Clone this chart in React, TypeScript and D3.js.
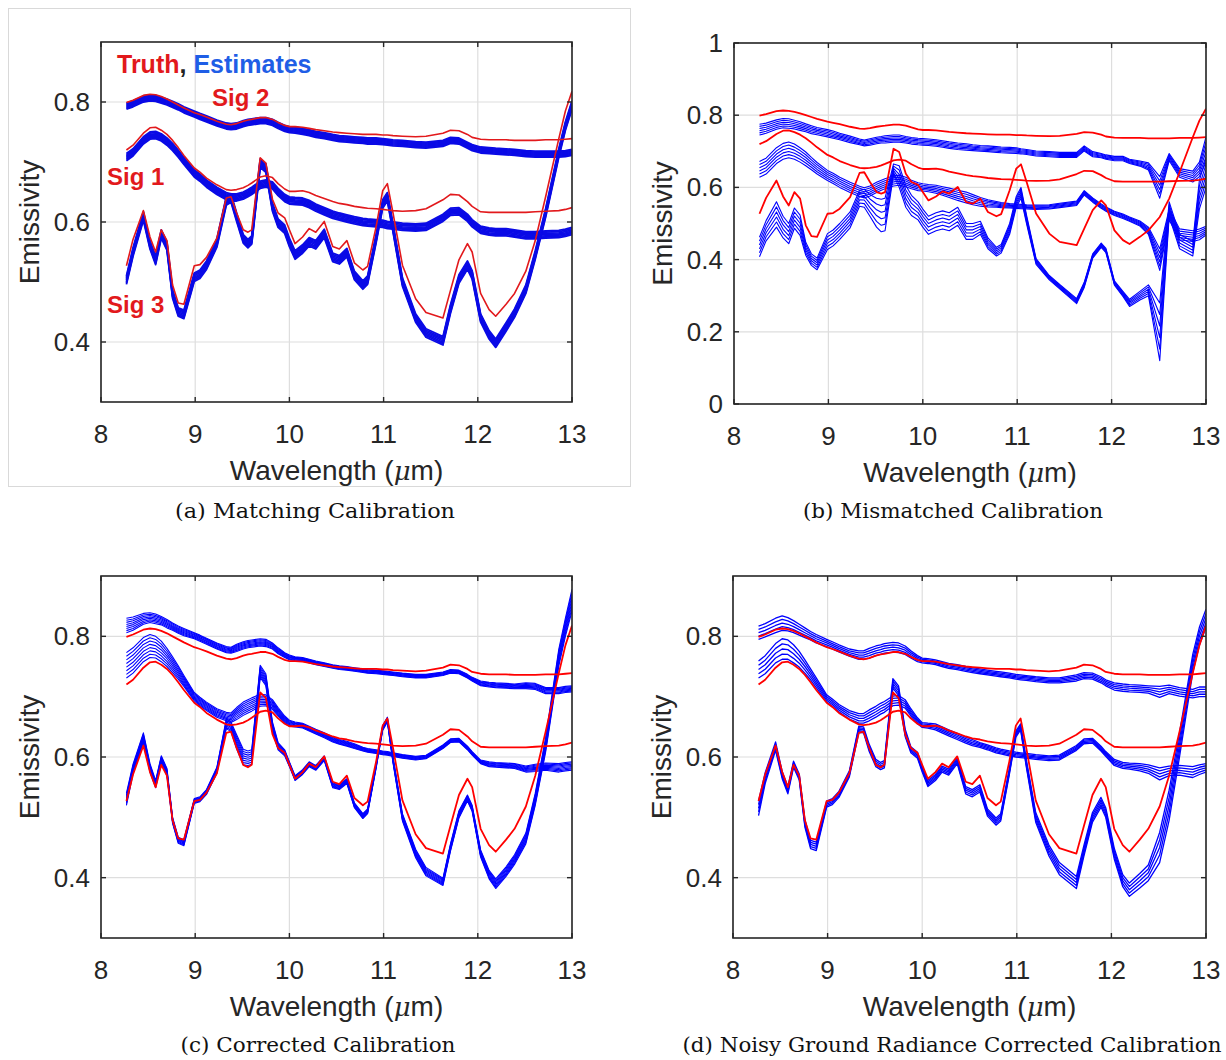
import React, { useEffect, useRef } from "react";
import * as d3 from "d3";

// wavelength grid (um) shared by every curve
const wavelength = [
  8.27, 8.34, 8.45, 8.52, 8.58, 8.64, 8.7, 8.76, 8.82, 8.88,
  8.99, 9.05, 9.12, 9.23, 9.33, 9.38, 9.44, 9.51, 9.56, 9.6,
  9.69, 9.75, 9.82, 9.88, 9.95, 10.0, 10.06, 10.14, 10.21, 10.28,
  10.37, 10.46, 10.53, 10.61, 10.69, 10.78, 10.83, 10.92, 10.99, 11.04,
  11.1, 11.2, 11.34, 11.45, 11.63, 11.71, 11.8, 11.89, 11.94, 12.03,
  12.12, 12.19, 12.3, 12.39, 12.51, 12.61, 12.72, 12.86, 12.93, 13.0,
];

// truth signatures (red)
const truthSig1 = [
  0.72, 0.728, 0.748, 0.757, 0.758, 0.753, 0.746, 0.736, 0.724, 0.711,
  0.69, 0.683, 0.673, 0.662, 0.654, 0.653, 0.654, 0.657, 0.661, 0.665,
  0.675, 0.677, 0.674, 0.664, 0.655, 0.651, 0.651, 0.652, 0.649, 0.644,
  0.639, 0.634, 0.631, 0.629, 0.626, 0.624, 0.623, 0.622, 0.621, 0.62,
  0.619, 0.618, 0.619, 0.622, 0.637, 0.646, 0.645, 0.634, 0.626, 0.617,
  0.616, 0.616, 0.616, 0.616, 0.616, 0.617, 0.618, 0.619, 0.621, 0.624,
];
const truthSig2 = [
  0.799, 0.803, 0.811, 0.813, 0.812, 0.809, 0.805, 0.8, 0.795, 0.79,
  0.782, 0.779, 0.775, 0.768, 0.763, 0.762, 0.764, 0.768, 0.77, 0.771,
  0.774, 0.774, 0.771, 0.766, 0.761, 0.759, 0.759, 0.758, 0.756, 0.754,
  0.752, 0.75, 0.749, 0.748, 0.747, 0.746, 0.746, 0.746, 0.745, 0.745,
  0.744, 0.743, 0.742, 0.743, 0.748, 0.753, 0.752, 0.746, 0.741, 0.738,
  0.737, 0.737, 0.737, 0.736, 0.736, 0.736, 0.737, 0.737, 0.738, 0.739,
];
const truthSig3 = [
  0.527, 0.571, 0.619, 0.575, 0.55, 0.587, 0.569, 0.495, 0.465, 0.463,
  0.527, 0.529, 0.541, 0.573, 0.64, 0.642, 0.615, 0.587, 0.583, 0.587,
  0.707, 0.698, 0.638, 0.615, 0.607, 0.587, 0.564, 0.575, 0.589, 0.583,
  0.601, 0.559, 0.555, 0.569, 0.532, 0.52, 0.526, 0.592, 0.652, 0.664,
  0.615, 0.528, 0.472, 0.449, 0.44, 0.486, 0.537, 0.564, 0.55, 0.481,
  0.454, 0.443, 0.463, 0.481, 0.518, 0.569, 0.642, 0.739, 0.785, 0.818,
];

// (a) matching calibration: estimate centres and band half-widths
const estA1 = [
  0.708, 0.716, 0.736, 0.744, 0.745, 0.741, 0.734, 0.725, 0.714, 0.702,
  0.681, 0.674, 0.664, 0.652, 0.643, 0.641, 0.641, 0.644, 0.648, 0.652,
  0.662, 0.664, 0.661, 0.65, 0.64, 0.636, 0.635, 0.634, 0.63, 0.624,
  0.618, 0.612, 0.609, 0.606, 0.603, 0.6, 0.599, 0.598, 0.597, 0.595,
  0.594, 0.592, 0.591, 0.592, 0.607, 0.617, 0.618, 0.607, 0.598, 0.587,
  0.584, 0.583, 0.583, 0.581, 0.578, 0.578, 0.579, 0.58, 0.582, 0.585,
];
const estA2 = [
  0.793, 0.797, 0.805, 0.807, 0.806, 0.803, 0.8, 0.796, 0.792, 0.787,
  0.78, 0.776, 0.772, 0.765, 0.76, 0.759, 0.76, 0.764, 0.766, 0.767,
  0.769, 0.769, 0.766, 0.761, 0.756, 0.754, 0.753, 0.751, 0.749, 0.746,
  0.744, 0.741, 0.739, 0.738, 0.737, 0.736, 0.735, 0.735, 0.734, 0.733,
  0.732, 0.731, 0.729, 0.728, 0.731, 0.736, 0.735, 0.728, 0.724, 0.72,
  0.719, 0.718, 0.717, 0.716, 0.714, 0.713, 0.713, 0.713, 0.714, 0.716,
];
const estA3 = [
  0.503, 0.55, 0.61, 0.562, 0.536, 0.58, 0.56, 0.48, 0.45, 0.446,
  0.508, 0.513, 0.528, 0.565, 0.635, 0.64, 0.608, 0.572, 0.564, 0.57,
  0.698, 0.69, 0.625, 0.598, 0.588, 0.566, 0.545, 0.555, 0.567, 0.562,
  0.581, 0.541, 0.537, 0.549, 0.511, 0.495, 0.503, 0.572, 0.63, 0.642,
  0.59, 0.5, 0.44, 0.415, 0.402, 0.455, 0.505, 0.528, 0.512, 0.44,
  0.412, 0.398, 0.425, 0.448, 0.488, 0.545, 0.615, 0.715, 0.76, 0.795,
];
const bandA = [0.006, 0.005, 0.007];

// (b) mismatched calibration
const estB1 = [
  0.65, 0.659, 0.688, 0.7, 0.704, 0.699, 0.69, 0.679, 0.666, 0.653,
  0.633, 0.625, 0.614, 0.6, 0.589, 0.585, 0.59, 0.6, 0.606, 0.61,
  0.618, 0.62, 0.615, 0.608, 0.602, 0.6, 0.598, 0.595, 0.59, 0.585,
  0.578, 0.572, 0.566, 0.56, 0.556, 0.553, 0.551, 0.549, 0.548, 0.547,
  0.546, 0.545, 0.546, 0.55, 0.556, 0.585, 0.565, 0.548, 0.54, 0.528,
  0.52, 0.512, 0.5, 0.48, 0.4, 0.525, 0.47, 0.465, 0.47, 0.48,
];
const spreadB1 = [
  0.022, 0.022, 0.022, 0.022, 0.022, 0.021, 0.02, 0.019, 0.017, 0.016,
  0.014, 0.014, 0.014, 0.014, 0.014, 0.014, 0.014, 0.014, 0.014, 0.014,
  0.014, 0.014, 0.013, 0.012, 0.011, 0.01, 0.01, 0.011, 0.012, 0.013,
  0.014, 0.015, 0.014, 0.012, 0.01, 0.008, 0.007, 0.006, 0.006, 0.006,
  0.006, 0.006, 0.006, 0.006, 0.006, 0.006, 0.006, 0.006, 0.006, 0.006,
  0.006, 0.006, 0.007, 0.01, 0.03, 0.015, 0.015, 0.015, 0.015, 0.012,
];
const estB2 = [
  0.76, 0.764, 0.774, 0.778, 0.777, 0.774, 0.77, 0.765, 0.76, 0.756,
  0.75, 0.746, 0.741, 0.733, 0.726, 0.723, 0.726, 0.73, 0.732, 0.733,
  0.735, 0.735, 0.732, 0.729, 0.727, 0.726, 0.725, 0.723, 0.72, 0.717,
  0.714, 0.712, 0.71, 0.708, 0.707, 0.705, 0.704, 0.703, 0.702, 0.7,
  0.698, 0.694, 0.692, 0.69, 0.69, 0.708, 0.692, 0.688, 0.684, 0.68,
  0.68, 0.672, 0.666, 0.658, 0.6, 0.684, 0.64, 0.63, 0.65, 0.705,
];
const spreadB2 = [
  0.015, 0.014, 0.013, 0.013, 0.013, 0.012, 0.012, 0.011, 0.011, 0.01,
  0.01, 0.01, 0.009, 0.009, 0.008, 0.008, 0.009, 0.009, 0.009, 0.01,
  0.01, 0.01, 0.009, 0.009, 0.009, 0.009, 0.009, 0.009, 0.009, 0.009,
  0.009, 0.009, 0.008, 0.008, 0.008, 0.008, 0.008, 0.008, 0.008, 0.007,
  0.007, 0.007, 0.007, 0.007, 0.007, 0.007, 0.007, 0.006, 0.006, 0.006,
  0.006, 0.006, 0.007, 0.01, 0.03, 0.01, 0.012, 0.015, 0.02, 0.035,
];
const estB3 = [
  0.435, 0.48, 0.525, 0.49, 0.472, 0.515, 0.495, 0.43, 0.4, 0.388,
  0.45, 0.46, 0.478, 0.51, 0.57, 0.57, 0.55, 0.53, 0.522, 0.525,
  0.65, 0.63, 0.575, 0.55, 0.535, 0.515, 0.495, 0.505, 0.51, 0.505,
  0.52, 0.478, 0.478, 0.488, 0.445, 0.422, 0.43, 0.485, 0.56, 0.585,
  0.51, 0.395, 0.35, 0.325, 0.285, 0.33, 0.41, 0.44, 0.425, 0.335,
  0.305, 0.28, 0.3, 0.315, 0.2, 0.54, 0.45, 0.43, 0.58, 0.64,
];
const spreadB3 = [
  0.027, 0.028, 0.035, 0.03, 0.028, 0.028, 0.028, 0.018, 0.016, 0.016,
  0.022, 0.022, 0.022, 0.022, 0.022, 0.025, 0.03, 0.04, 0.045, 0.045,
  0.015, 0.03, 0.03, 0.028, 0.025, 0.025, 0.025, 0.025, 0.025, 0.025,
  0.025, 0.022, 0.022, 0.018, 0.015, 0.012, 0.012, 0.015, 0.015, 0.015,
  0.012, 0.008, 0.006, 0.006, 0.007, 0.007, 0.006, 0.006, 0.006, 0.006,
  0.007, 0.01, 0.012, 0.015, 0.08, 0.02, 0.02, 0.02, 0.04, 0.04,
];

// (c) corrected calibration
const estC1 = [
  0.752, 0.76, 0.778, 0.784, 0.782, 0.775, 0.765, 0.753, 0.74, 0.726,
  0.7, 0.692, 0.684, 0.673, 0.667, 0.665, 0.672, 0.68, 0.684, 0.687,
  0.694, 0.694, 0.687, 0.675, 0.662, 0.656, 0.654, 0.652, 0.647, 0.642,
  0.636, 0.629, 0.625, 0.622, 0.618, 0.613, 0.611, 0.609, 0.607, 0.606,
  0.604, 0.601, 0.598, 0.6, 0.617, 0.627, 0.628, 0.615, 0.606, 0.592,
  0.588, 0.587, 0.586, 0.585, 0.58, 0.582, 0.584, 0.582, 0.584, 0.585,
];
const spreadC1 = [
  0.021, 0.021, 0.02, 0.019, 0.018, 0.017, 0.015, 0.013, 0.011, 0.009,
  0.007, 0.007, 0.007, 0.007, 0.007, 0.008, 0.01, 0.011, 0.011, 0.011,
  0.01, 0.009, 0.008, 0.007, 0.006, 0.005, 0.004, 0.004, 0.004, 0.004,
  0.004, 0.004, 0.004, 0.004, 0.004, 0.003, 0.003, 0.003, 0.003, 0.003,
  0.003, 0.003, 0.003, 0.003, 0.003, 0.003, 0.003, 0.003, 0.003, 0.003,
  0.004, 0.004, 0.004, 0.004, 0.005, 0.006, 0.006, 0.007, 0.007, 0.007,
];
const estC2 = [
  0.818, 0.821, 0.829, 0.831, 0.829, 0.826, 0.821, 0.816, 0.811, 0.807,
  0.801, 0.797, 0.792, 0.784, 0.778, 0.777, 0.781, 0.785, 0.787, 0.788,
  0.79, 0.789, 0.784, 0.776, 0.769, 0.765, 0.763, 0.762, 0.759, 0.756,
  0.753, 0.75, 0.748, 0.747, 0.745, 0.743, 0.742, 0.741, 0.74, 0.739,
  0.738, 0.736, 0.734, 0.734, 0.738, 0.742, 0.741, 0.734, 0.729, 0.722,
  0.72, 0.719, 0.718, 0.717, 0.718, 0.717, 0.71, 0.71, 0.712, 0.713,
];
const spreadC2 = [
  0.012, 0.011, 0.009, 0.008, 0.008, 0.007, 0.007, 0.006, 0.006, 0.006,
  0.005, 0.005, 0.005, 0.005, 0.005, 0.005, 0.006, 0.006, 0.006, 0.006,
  0.006, 0.006, 0.005, 0.005, 0.004, 0.004, 0.003, 0.003, 0.003, 0.003,
  0.003, 0.003, 0.003, 0.003, 0.003, 0.003, 0.003, 0.003, 0.003, 0.003,
  0.003, 0.003, 0.003, 0.003, 0.003, 0.003, 0.003, 0.003, 0.003, 0.004,
  0.004, 0.004, 0.004, 0.004, 0.005, 0.005, 0.005, 0.005, 0.005, 0.005,
];
const estC3 = [
  0.53, 0.58, 0.632, 0.582, 0.555, 0.596, 0.575, 0.495, 0.462, 0.458,
  0.527, 0.53, 0.542, 0.578, 0.655, 0.65, 0.625, 0.6, 0.598, 0.6,
  0.742, 0.728, 0.65, 0.618, 0.607, 0.588, 0.565, 0.575, 0.588, 0.582,
  0.598, 0.553, 0.55, 0.56, 0.52, 0.502, 0.51, 0.585, 0.648, 0.662,
  0.595, 0.5, 0.44, 0.41, 0.393, 0.45, 0.505, 0.532, 0.515, 0.44,
  0.405, 0.39, 0.41, 0.43, 0.465, 0.53, 0.62, 0.765, 0.815, 0.86,
];
const spreadC3 = [
  0.01, 0.008, 0.008, 0.007, 0.006, 0.006, 0.006, 0.005, 0.005, 0.005,
  0.004, 0.004, 0.004, 0.005, 0.008, 0.008, 0.012, 0.013, 0.012, 0.012,
  0.01, 0.01, 0.008, 0.006, 0.005, 0.004, 0.004, 0.004, 0.004, 0.004,
  0.004, 0.004, 0.004, 0.004, 0.004, 0.004, 0.004, 0.004, 0.004, 0.004,
  0.005, 0.006, 0.007, 0.007, 0.006, 0.006, 0.006, 0.005, 0.005, 0.006,
  0.007, 0.008, 0.008, 0.008, 0.009, 0.01, 0.012, 0.014, 0.015, 0.018,
];

// (d) noisy ground radiance corrected calibration
const estD1 = [
  0.745, 0.753, 0.772, 0.779, 0.778, 0.771, 0.762, 0.75, 0.737, 0.723,
  0.697, 0.69, 0.681, 0.67, 0.664, 0.664, 0.669, 0.675, 0.68, 0.683,
  0.693, 0.694, 0.688, 0.674, 0.66, 0.653, 0.652, 0.65, 0.645, 0.64,
  0.634, 0.628, 0.624, 0.62, 0.616, 0.611, 0.609, 0.606, 0.604, 0.603,
  0.602, 0.6, 0.598, 0.599, 0.615, 0.626, 0.627, 0.614, 0.605, 0.591,
  0.586, 0.585, 0.583, 0.58, 0.572, 0.577, 0.578, 0.575, 0.579, 0.582,
];
const spreadD1 = [
  0.014, 0.015, 0.016, 0.017, 0.016, 0.015, 0.013, 0.011, 0.009, 0.008,
  0.006, 0.006, 0.006, 0.007, 0.008, 0.008, 0.009, 0.009, 0.009, 0.009,
  0.008, 0.008, 0.007, 0.006, 0.005, 0.004, 0.004, 0.005, 0.005, 0.005,
  0.005, 0.005, 0.005, 0.004, 0.004, 0.004, 0.004, 0.004, 0.004, 0.004,
  0.004, 0.004, 0.004, 0.004, 0.004, 0.004, 0.004, 0.004, 0.004, 0.005,
  0.005, 0.005, 0.006, 0.007, 0.01, 0.008, 0.008, 0.009, 0.008, 0.007,
];
const estD2 = [
  0.806, 0.81, 0.818, 0.822, 0.82, 0.816, 0.811, 0.806, 0.801, 0.796,
  0.789, 0.785, 0.78, 0.773, 0.769, 0.769, 0.772, 0.776, 0.778, 0.78,
  0.782, 0.781, 0.777, 0.77, 0.763, 0.76, 0.759, 0.757, 0.754, 0.751,
  0.749, 0.746, 0.744, 0.742, 0.74, 0.738, 0.737, 0.735, 0.733, 0.732,
  0.731, 0.729, 0.727, 0.727, 0.731, 0.735, 0.734, 0.728, 0.723, 0.717,
  0.715, 0.714, 0.713, 0.712, 0.708, 0.712, 0.708, 0.705, 0.708, 0.708,
];
const spreadD2 = [
  0.011, 0.011, 0.012, 0.012, 0.011, 0.01, 0.009, 0.008, 0.007, 0.007,
  0.006, 0.006, 0.006, 0.006, 0.007, 0.007, 0.008, 0.008, 0.008, 0.008,
  0.008, 0.008, 0.007, 0.006, 0.005, 0.004, 0.004, 0.004, 0.004, 0.004,
  0.004, 0.004, 0.004, 0.004, 0.004, 0.004, 0.004, 0.004, 0.004, 0.004,
  0.004, 0.004, 0.004, 0.004, 0.005, 0.005, 0.005, 0.005, 0.005, 0.006,
  0.006, 0.006, 0.006, 0.006, 0.009, 0.007, 0.007, 0.007, 0.008, 0.008,
];
const estD3 = [
  0.515, 0.565, 0.618, 0.57, 0.545, 0.588, 0.567, 0.49, 0.455, 0.452,
  0.522, 0.526, 0.538, 0.572, 0.646, 0.645, 0.615, 0.59, 0.585, 0.588,
  0.722, 0.71, 0.64, 0.612, 0.603, 0.58, 0.556, 0.566, 0.58, 0.575,
  0.594, 0.545, 0.54, 0.548, 0.508, 0.493, 0.5, 0.575, 0.638, 0.65,
  0.59, 0.5, 0.445, 0.415, 0.392, 0.445, 0.5, 0.525, 0.508, 0.44,
  0.395, 0.38, 0.395, 0.408, 0.45, 0.52, 0.62, 0.755, 0.8, 0.83,
];
const spreadD3 = [
  0.012, 0.009, 0.007, 0.006, 0.006, 0.005, 0.005, 0.006, 0.007, 0.007,
  0.005, 0.005, 0.005, 0.005, 0.005, 0.005, 0.006, 0.006, 0.006, 0.006,
  0.008, 0.008, 0.006, 0.005, 0.005, 0.005, 0.005, 0.005, 0.005, 0.005,
  0.005, 0.006, 0.006, 0.006, 0.006, 0.006, 0.006, 0.005, 0.005, 0.005,
  0.006, 0.008, 0.009, 0.01, 0.01, 0.009, 0.008, 0.008, 0.008, 0.009,
  0.01, 0.011, 0.012, 0.013, 0.025, 0.025, 0.02, 0.015, 0.015, 0.015,
];

const xTicks = [8, 9, 10, 11, 12, 13];
const yTicksNarrow = [0.4, 0.6, 0.8];
const yTicksFull = [0, 0.2, 0.4, 0.6, 0.8, 1];
const captions = [
  "(a) Matching Calibration",
  "(b) Mismatched Calibration",
  "(c) Corrected Calibration",
  "(d) Noisy Ground Radiance Corrected Calibration",
];

const TXT = "#262626";
const SANS = "'Liberation Sans', Arial, Helvetica, sans-serif";

const panels = [
  {
    key: "a", left: 101, right: 572, top: 42, bottom: 402,
    yDomain: [0.3, 0.9], yTicks: yTicksNarrow,
    caption: captions[0], capX: 315, capY: 518, capLen: 280,
    red: "#e2191c", blue: "#0a0ae6", members: 7, blueWidth: 1.8, redWidth: 1.6,
    estimates: [
      { center: estA1, spread: wavelength.map(() => bandA[0]) },
      { center: estA2, spread: wavelength.map(() => bandA[1]) },
      { center: estA3, spread: wavelength.map(() => bandA[2]) },
    ],
  },
  {
    key: "b", left: 734, right: 1206, top: 43, bottom: 404,
    yDomain: [0, 1], yTicks: yTicksFull,
    caption: captions[1], capX: 953, capY: 518, capLen: 300,
    red: "#ff0000", blue: "#0000ff", members: 6, blueWidth: 1.1, redWidth: 1.8,
    estimates: [
      { center: estB1, spread: spreadB1 },
      { center: estB2, spread: spreadB2 },
      { center: estB3, spread: spreadB3 },
    ],
  },
  {
    key: "c", left: 101, right: 572, top: 576, bottom: 938,
    yDomain: [0.3, 0.9], yTicks: yTicksNarrow,
    caption: captions[2], capX: 318, capY: 1052, capLen: 275,
    red: "#ff0000", blue: "#0000ff", members: 8, blueWidth: 1.1, redWidth: 1.8,
    estimates: [
      { center: estC1, spread: spreadC1 },
      { center: estC2, spread: spreadC2 },
      { center: estC3, spread: spreadC3 },
    ],
  },
  {
    key: "d", left: 733, right: 1206, top: 576, bottom: 938,
    yDomain: [0.3, 0.9], yTicks: yTicksNarrow,
    caption: captions[3], capX: 952, capY: 1052, capLen: 539,
    red: "#ff0000", blue: "#0000ff", members: 5, blueWidth: 1.3, redWidth: 1.8,
    estimates: [
      { center: estD1, spread: spreadD1 },
      { center: estD2, spread: spreadD2 },
      { center: estD3, spread: spreadD3 },
    ],
  },
];

const drawPanel = (svg: any, p: any) => {
  const x = d3.scaleLinear().domain([8, 13]).range([p.left, p.right]);
  const y = d3.scaleLinear().domain(p.yDomain).range([p.bottom, p.top]);
  const g = svg.append("g");

  // grid
  g.selectAll(".gx")
    .data(xTicks)
    .join("line")
    .attr("x1", (d: number) => x(d))
    .attr("x2", (d: number) => x(d))
    .attr("y1", p.top)
    .attr("y2", p.bottom)
    .style("stroke", "#dedede")
    .style("stroke-width", 1.2);
  g.selectAll(".gy")
    .data(p.yTicks)
    .join("line")
    .attr("x1", p.left)
    .attr("x2", p.right)
    .attr("y1", (d: number) => y(d))
    .attr("y2", (d: number) => y(d))
    .style("stroke", "#dedede")
    .style("stroke-width", 1.2);

  const clipId = `clip-${p.key}`;
  svg
    .append("defs")
    .append("clipPath")
    .attr("id", clipId)
    .append("rect")
    .attr("x", p.left)
    .attr("y", p.top)
    .attr("width", p.right - p.left)
    .attr("height", p.bottom - p.top);

  const plot = g.append("g").attr("clip-path", `url(#${clipId})`);
  const line = d3
    .line<number>()
    .x((_, i) => x(wavelength[i]))
    .y((v) => y(v));

  // estimate ensembles (blue)
  const fractions = d3.range(p.members).map((k) => -1 + (2 * k) / (p.members - 1));
  p.estimates.forEach((est: any) => {
    fractions.forEach((f) => {
      plot
        .append("path")
        .attr("d", line(est.center.map((v: number, i: number) => v + est.spread[i] * f)))
        .style("fill", "none")
        .style("stroke", p.blue)
        .style("stroke-width", p.blueWidth)
        .style("stroke-linejoin", "round");
    });
  });

  // truth (red)
  [truthSig1, truthSig2, truthSig3].forEach((t) => {
    plot
      .append("path")
      .attr("d", line(t))
      .style("fill", "none")
      .style("stroke", p.red)
      .style("stroke-width", p.redWidth)
      .style("stroke-linejoin", "round");
  });

  // box
  g.append("rect")
    .attr("x", p.left)
    .attr("y", p.top)
    .attr("width", p.right - p.left)
    .attr("height", p.bottom - p.top)
    .style("fill", "none")
    .style("stroke", TXT)
    .style("stroke-width", 1.6);

  // tick marks on all four sides
  const tl = 5;
  xTicks.forEach((t) => {
    g.append("line").attr("x1", x(t)).attr("x2", x(t)).attr("y1", p.bottom).attr("y2", p.bottom - tl).style("stroke", TXT).style("stroke-width", 1.4);
    g.append("line").attr("x1", x(t)).attr("x2", x(t)).attr("y1", p.top).attr("y2", p.top + tl).style("stroke", TXT).style("stroke-width", 1.4);
  });
  p.yTicks.forEach((t: number) => {
    g.append("line").attr("x1", p.left).attr("x2", p.left + tl).attr("y1", y(t)).attr("y2", y(t)).style("stroke", TXT).style("stroke-width", 1.4);
    g.append("line").attr("x1", p.right).attr("x2", p.right - tl).attr("y1", y(t)).attr("y2", y(t)).style("stroke", TXT).style("stroke-width", 1.4);
  });

  // tick labels
  g.selectAll(".xl")
    .data(xTicks)
    .join("text")
    .attr("x", (d: number) => x(d))
    .attr("y", p.bottom + 41)
    .style("font-family", SANS)
    .style("font-size", "26px")
    .style("fill", TXT)
    .style("text-anchor", "middle")
    .text((d: number) => String(d));
  g.selectAll(".yl")
    .data(p.yTicks)
    .join("text")
    .attr("x", p.left - 11)
    .attr("y", (d: number) => y(d) + 9)
    .style("font-family", SANS)
    .style("font-size", "26px")
    .style("fill", TXT)
    .style("text-anchor", "end")
    .text((d: number) => String(d));

  // axis labels
  const xl = g
    .append("text")
    .attr("x", (p.left + p.right) / 2)
    .attr("y", p.bottom + 78)
    .style("font-family", SANS)
    .style("font-size", "28px")
    .style("fill", TXT)
    .style("text-anchor", "middle");
  xl.append("tspan").text("Wavelength (");
  xl.append("tspan").style("font-style", "italic").style("font-family", "'DejaVu Serif', serif").style("font-size", "26px").text("\u03bc");
  xl.append("tspan").text("m)");

  const cy = (p.top + p.bottom) / 2;
  g.append("text")
    .attr("transform", `translate(${p.left - 62},${cy}) rotate(-90)`)
    .style("font-family", SANS)
    .style("font-size", "28px")
    .style("fill", TXT)
    .style("text-anchor", "middle")
    .text("Emissivity");

  // caption
  g.append("text")
    .attr("x", p.capX)
    .attr("y", p.capY)
    .attr("textLength", p.capLen)
    .attr("lengthAdjust", "spacingAndGlyphs")
    .style("font-family", "'DejaVu Serif', 'Liberation Serif', serif")
    .style("font-size", "20px")
    .style("fill", "#111")
    .style("text-anchor", "middle")
    .text(p.caption);
};

const App = () => {
  const ref = useRef<SVGSVGElement>(null);

  useEffect(() => {
    const svg = d3.select(ref.current);
    svg.selectAll("*").remove();

    svg.append("rect").attr("width", 1226).attr("height", 1060).style("fill", "#fff");

    // light frame around panel (a)
    svg
      .append("rect")
      .attr("x", 8.5)
      .attr("y", 8.5)
      .attr("width", 622)
      .attr("height", 478)
      .style("fill", "none")
      .style("stroke", "#d9d9d9")
      .style("stroke-width", 1);

    panels.forEach((p) => drawPanel(svg, p));

    // annotations inside panel (a)
    const title = svg
      .append("text")
      .attr("x", 117)
      .attr("y", 73)
      .style("font-family", SANS)
      .style("font-size", "25px")
      .style("font-weight", "bold");
    title.append("tspan").style("fill", "#e2191c").text("Truth");
    title.append("tspan").style("fill", "#222").text(", ");
    title.append("tspan").style("fill", "#1f5ee6").text("Estimates");

    const sigLabels = [
      { text: "Sig 2", x: 212, y: 106 },
      { text: "Sig 1", x: 107, y: 185 },
      { text: "Sig 3", x: 107, y: 313 },
    ];
    sigLabels.forEach((s) => {
      svg
        .append("text")
        .attr("x", s.x)
        .attr("y", s.y)
        .style("font-family", SANS)
        .style("font-size", "24px")
        .style("font-weight", "bold")
        .style("fill", "#e2191c")
        .text(s.text);
    });
  }, []);

  return (
    <svg
      ref={ref}
      width={1226}
      height={1060}
      style={{ position: "absolute", left: 0, top: 0 }}
    />
  );
};

export default App;
